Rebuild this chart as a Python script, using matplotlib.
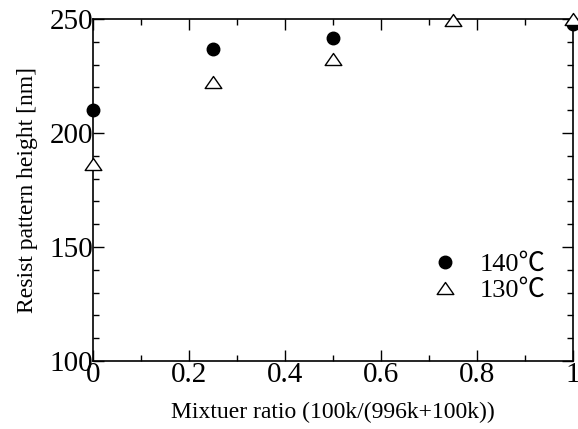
import matplotlib
matplotlib.use("Agg")
import matplotlib.pyplot as plt
from matplotlib.path import Path
from matplotlib.ticker import MultipleLocator

plt.rcParams['font.family'] = ['Liberation Serif', 'Noto Sans CJK JP', 'DejaVu Serif']

ratio_140 = [0, 0.25, 0.5, 1.0]
height_140 = [210, 237, 241.7, 248]
ratio_130 = [0, 0.25, 0.5, 0.75, 1.0]
height_130 = [186.5, 222.5, 232.5, 249.7, 250]

# open triangle, a bit wider than tall like the original
tri = Path([(0, 0.72), (-1, -0.72), (1, -0.72), (0, 0.72)], closed=True)

fig = plt.figure(figsize=(5.78, 4.29), dpi=100)
ax = fig.add_axes([0.161, 0.1585, 0.830, 0.797])

ax.plot(ratio_140, height_140, 'o', color='black', markersize=9, clip_on=False,
        label='140\u2103', zorder=3)
ax.plot(ratio_130, height_130, marker=tri, linestyle='none', markerfacecolor='white',
        markeredgecolor='black', markeredgewidth=1.0, markersize=12, clip_on=False,
        label='130\u2103', zorder=3)

ax.set_xlim(0, 1)
ax.set_ylim(100, 250)
ax.xaxis.set_minor_locator(MultipleLocator(0.1))
ax.yaxis.set_major_locator(MultipleLocator(50))
ax.yaxis.set_minor_locator(MultipleLocator(10))
ax.set_xticks([0, 0.2, 0.4, 0.6, 0.8, 1.0])
ax.set_xticklabels(['0', '0.2', '0.4', '0.6', '0.8', '1'])

ax.tick_params(which='both', direction='in', top=True, right=True, width=1.0,
               labelsize=21)
ax.tick_params(axis='x', pad=1)
ax.tick_params(axis='y', pad=0)
ax.tick_params(which='major', length=8)
ax.tick_params(which='minor', length=4)
for s in ax.spines.values():
    s.set_linewidth(1.2)

ax.set_xlabel('Mixtuer ratio (100k/(996k+100k))', fontsize=17, labelpad=10)
ax.set_ylabel('Resist pattern height [nm]', fontsize=17, labelpad=8)

ax.legend(loc='upper left', bbox_to_anchor=(0.706, 0.318), frameon=False, fontsize=19,
          handletextpad=0.8, labelspacing=0.1, borderaxespad=0, borderpad=0,
          handlelength=1.0)

fig.savefig('out.png', dpi=100)
